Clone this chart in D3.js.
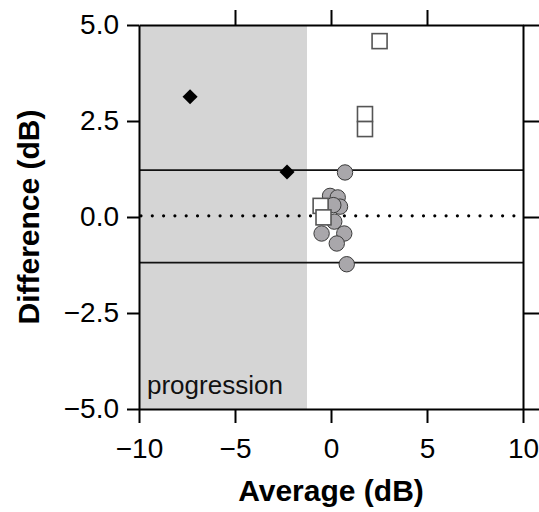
<!DOCTYPE html>
<html>
<head>
<meta charset="utf-8">
<script src="https://cdn.jsdelivr.net/npm/d3@7"></script>
<style>
  body { margin: 0; background: #fff; }
  text { font-family: "Liberation Sans", Arial, sans-serif; }
</style>
</head>
<body>
<svg id="canvas"></svg>
<script>
let width = 539;
let height = 512;
let plotLeft = 139, plotRight = 523, plotTop = 25, plotBottom = 409;

// data
let diamondX = [-7.34, -2.29];
let diamondY = [3.13, 1.17];
let circleX = [0.73, -0.05, 0.35, 0.47, 0.12, 0.17, -0.49, 0.69, 0.3, 0.82];
let circleY = [1.16, 0.55, 0.51, 0.27, 0.31, -0.12, -0.43, -0.43, -0.69, -1.23];
let squareX = [2.53, 1.77, 1.77, -0.54, -0.39];
let squareY = [4.58, 2.68, 2.29, 0.29, -0.01];
let meanDiff = 0.03;
let upperLimit = 1.22;
let lowerLimit = -1.19;
let shadeRange = [-10, -1.25];
let xTicks = [-10, -5, 0, 5, 10];
let yTicks = [-5, -2.5, 0, 2.5, 5];

let canvas = d3.select('#canvas').attr('width', width).attr('height', height);

let xScale = d3.scaleLinear().domain([-10, 10]).range([plotLeft, plotRight]);
let yScale = d3.scaleLinear().domain([-5, 5]).range([plotBottom, plotTop]);

let minus = (s) => s.replace('-', '\u2212');

// shaded progression area
canvas.append('rect')
    .attr('x', xScale(shadeRange[0]))
    .attr('y', plotTop)
    .attr('width', xScale(shadeRange[1]) - xScale(shadeRange[0]))
    .attr('height', plotBottom - plotTop)
    .attr('fill', '#d5d5d5');

canvas.append('text')
    .attr('x', xScale(shadeRange[0]) + 8)
    .attr('y', plotBottom - 15)
    .attr('font-size', 26)
    .attr('fill', '#111')
    .text('progression');

// limits of agreement and mean
[upperLimit, lowerLimit].forEach((v) => {
    canvas.append('line')
        .attr('x1', plotLeft).attr('x2', plotRight)
        .attr('y1', yScale(v)).attr('y2', yScale(v))
        .attr('stroke', '#111').attr('stroke-width', 1.8);
});

canvas.append('line')
    .attr('x1', plotLeft + 2).attr('x2', plotRight - 2)
    .attr('y1', yScale(meanDiff)).attr('y2', yScale(meanDiff))
    .attr('stroke', '#000').attr('stroke-width', 3.2)
    .attr('stroke-linecap', 'round')
    .attr('stroke-dasharray', '0,11.3');

// axes
let styleAxis = (g) => {
    g.selectAll('path, line').attr('stroke', '#000').attr('stroke-width', 2);
    g.selectAll('text').attr('font-size', 28).attr('fill', '#000')
        .attr('font-family', '"Liberation Sans", Arial, sans-serif');
};

canvas.append('g')
    .attr('transform', `translate(0, ${plotBottom})`)
    .call(d3.axisBottom(xScale).tickValues(xTicks).tickSize(14).tickSizeOuter(0)
        .tickPadding(15).tickFormat((d) => minus(d3.format('d')(d))))
    .call(styleAxis);

canvas.append('g')
    .attr('transform', `translate(${plotLeft}, 0)`)
    .call(d3.axisLeft(yScale).tickValues(yTicks).tickSize(12).tickSizeOuter(0)
        .tickPadding(8).tickFormat((d) => minus(d3.format('.1f')(d))))
    .call(styleAxis);

canvas.append('g')
    .attr('transform', `translate(0, ${plotTop})`)
    .call(d3.axisTop(xScale).tickValues([-5, 0, 5]).tickSize(15).tickSizeOuter(0).tickFormat(''))
    .call(styleAxis);

canvas.append('g')
    .attr('transform', `translate(${plotRight}, 0)`)
    .call(d3.axisRight(yScale).tickValues(yTicks).tickSize(20).tickSizeOuter(0).tickFormat(''))
    .call(styleAxis);

// markers
let circles = circleX.map((x, i) => ({ x: x, y: circleY[i] }));
let squares = squareX.map((x, i) => ({ x: x, y: squareY[i] }));
let diamonds = diamondX.map((x, i) => ({ x: x, y: diamondY[i] }));

canvas.append('g').selectAll('circle')
    .data(circles)
    .enter()
    .append('circle')
    .attr('cx', (d) => xScale(d.x))
    .attr('cy', (d) => yScale(d.y))
    .attr('r', 7.7)
    .attr('fill', '#a9a7ab')
    .attr('stroke', '#3a3a3a')
    .attr('stroke-width', 1);

canvas.append('g').selectAll('rect')
    .data(squares)
    .enter()
    .append('rect')
    .attr('x', (d) => xScale(d.x) - 7.5)
    .attr('y', (d) => yScale(d.y) - 7.5)
    .attr('width', 15)
    .attr('height', 15)
    .attr('fill', '#fff')
    .attr('stroke', '#555')
    .attr('stroke-width', 1.6);

canvas.append('g').selectAll('path')
    .data(diamonds)
    .enter()
    .append('path')
    .attr('d', d3.symbol().type(d3.symbolDiamond2).size(145))
    .attr('transform', (d) => `translate(${xScale(d.x)}, ${yScale(d.y)})`)
    .attr('fill', '#000');

// titles
canvas.append('text')
    .attr('x', (plotLeft + plotRight) / 2)
    .attr('y', 501)
    .attr('text-anchor', 'middle')
    .attr('font-size', 30)
    .attr('font-weight', 'bold')
    .text('Average (dB)');

canvas.append('text')
    .attr('transform', `translate(39, ${(plotTop + plotBottom) / 2}) rotate(-90)`)
    .attr('text-anchor', 'middle')
    .attr('font-size', 30)
    .attr('font-weight', 'bold')
    .text('Difference (dB)');
</script>
</body>
</html>
